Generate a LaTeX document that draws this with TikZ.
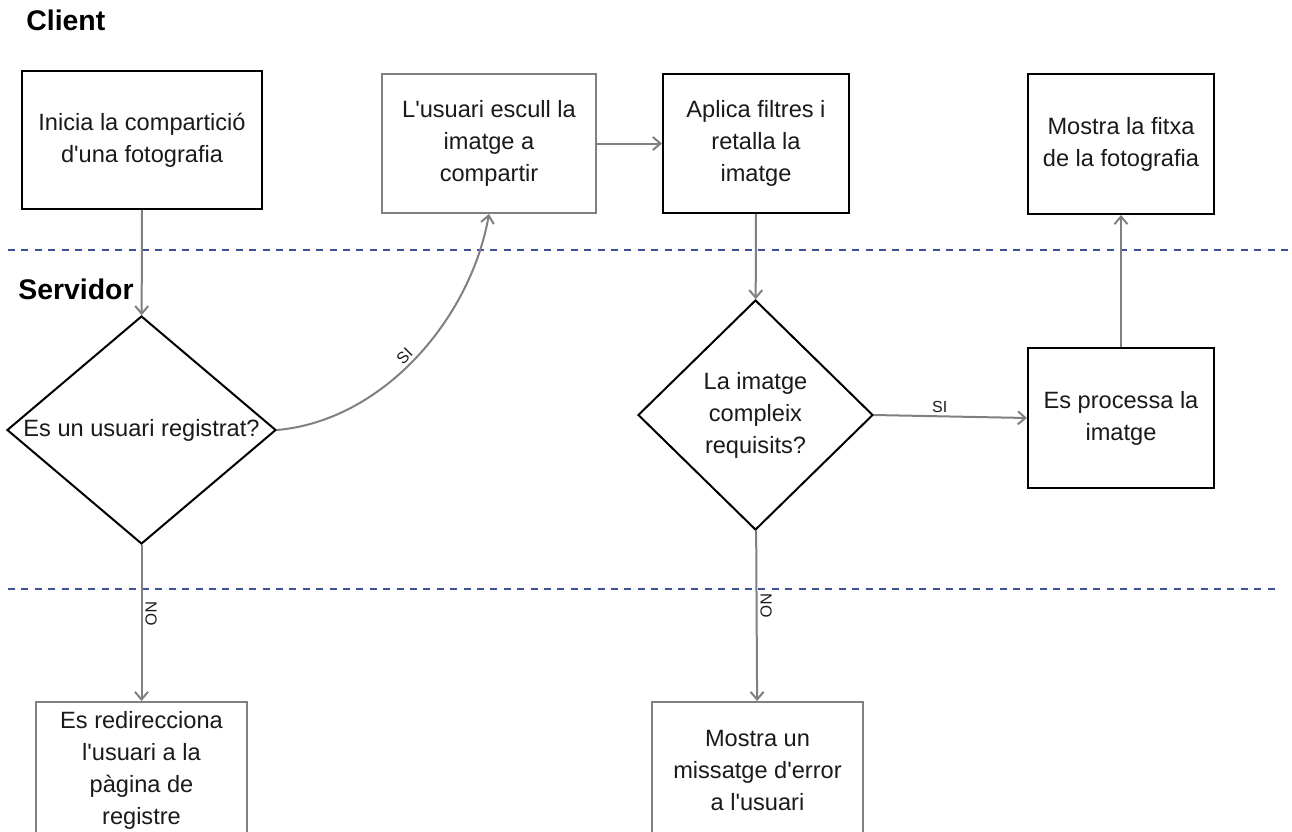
\documentclass[tikz,border=0pt]{standalone}
\usepackage{fontspec}
\setmainfont{Liberation Sans}[Ligatures=TeXOff]
\usepackage{tikz}
\usepackage{xcolor}
\usetikzlibrary{arrows.meta,shapes}

\definecolor{linegrey}{RGB}{128,128,128}
\definecolor{lanecolor}{RGB}{62,80,152}
\definecolor{textcol}{RGB}{26,26,26}

\begin{document}
\begin{tikzpicture}[x=0.5pt,y=-0.5pt,
	proc/.style={fill=white, draw=black, line width=1pt, shape=rectangle, align=center, text=textcol, font=\fontsize{11.8pt}{16pt}\selectfont},
	procgrey/.style={proc, draw=linegrey},
	decision/.style={fill=white, draw=black, line width=1pt, shape=diamond, inner sep=0pt},
	dtext/.style={align=center, text=textcol, font=\fontsize{11.8pt}{16pt}\selectfont},
	flow/.style={draw=linegrey, line width=1pt, -{Straight Barb[length=3.8pt,width=6.5pt]}},
	lane/.style={draw=lanecolor, line width=1.3pt, dash pattern=on 3.5pt off 3.2pt},
	cond/.style={text=textcol, font=\fontsize{8pt}{9pt}\selectfont, inner sep=1.5pt},
	lanetitle/.style={anchor=west, inner sep=0pt, font=\fontsize{14.2pt}{16pt}\selectfont\bfseries}]
	\useasboundingbox (0,0) rectangle (1292,831);
	\clip (0,0) rectangle (1292,831);

	\node [lanetitle] (client) at (26, 20) {Client};
	\node [lanetitle] (servidor) at (18, 289) {Servidor};

	\draw [lane] (8, 250) -- (1292, 250);
	\draw [lane] (8, 589) -- (1276, 589);

	\node [proc, minimum width=120pt, minimum height=69pt] (inicia) at (142, 140) {Inicia la compartició\\d'una fotografia};
	\node [procgrey, minimum width=107pt, minimum height=69.5pt] (escull) at (489, 143.5) {L'usuari escull la\\imatge a\\compartir};
	\node [proc, minimum width=93pt, minimum height=69.5pt] (filtres) at (756, 143.5) {Aplica filtres i\\retalla la\\imatge};
	\node [proc, minimum width=93pt, minimum height=70pt] (fitxa) at (1121, 144) {Mostra la fitxa\\de la fotografia};

	\node [decision, minimum width=134.5pt, minimum height=114pt, label={[dtext]center:Es un usuari registrat?}] (registrat) at (141.5, 430) {};
	\node [decision, minimum width=117.5pt, minimum height=115pt, label={[dtext]center:La imatge\\compleix\\requisits?}] (requisits) at (755.5, 415) {};
	\node [proc, minimum width=93pt, minimum height=70pt] (processa) at (1121, 418) {Es processa la\\imatge};

	\node [procgrey, minimum width=105.5pt, minimum height=68pt] (redirecciona) at (141.5, 770) {Es redirecciona\\l'usuari a la\\pàgina de\\registre};
	\node [procgrey, minimum width=105.5pt, minimum height=68pt] (error) at (757.5, 770) {Mostra un\\missatge d'error\\a l'usuari};

	\draw [flow] (inicia) to (registrat);
	\draw [flow] (registrat.east) to [out=5, in=-100, looseness=0.9] node [cond, pos=0.48, above, sloped] {SI} (escull.south);
	\draw [flow] (escull) to (filtres);
	\draw [flow] (filtres) to (requisits);
	\draw [flow] (requisits.east) to node [cond, pos=0.43, above] {SI} (processa.west);
	\draw [flow] (processa) to (fitxa);
	\draw [flow] (registrat) to node [cond, pos=0.44, anchor=south, rotate=-90] {NO} (redirecciona);
	\draw [flow] (requisits) to node [cond, pos=0.44, anchor=south, rotate=-90] {NO} (error);
\end{tikzpicture}
\end{document}
